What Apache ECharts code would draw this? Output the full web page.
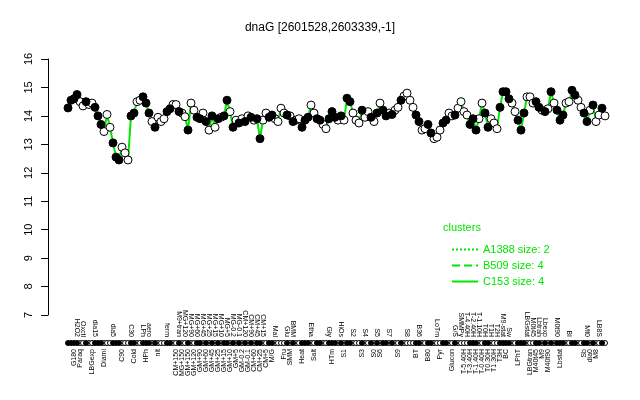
<!DOCTYPE html>
<html>
<head>
<meta charset="utf-8">
<script src="https://cdn.jsdelivr.net/npm/echarts@6/dist/echarts.min.js"></script>
<style>html,body{margin:0;padding:0;background:#fff}#c{width:640px;height:400px}</style>
</head>
<body>
<div id="c"></div>
<script>
const titleText = 'dnaG [2601528,2603339,-1]';
const yTicks = [7, 8, 9, 10, 11, 12, 13, 14, 15, 16];
const categories = [
 'G150','G135','G180','H2O2','Paraq','Oxctl','','','LBGexp','dia15',
 '','','Diami','','','dia5','','','C90','',
 '','C30','Cold','','','LPh','HPh','aero','','',
 'nit','','','ferm','','','CM+150','M9+tran','MG+150','MG+120',
 'GM+150','MG+90','GM+120','MG+60','GM+90','MG+45','GM+60','MG+25','GM+45','MG+15',
 'GM+25','MG+10','GM+15','MG+5','GM+10','MG-0.2','GM+5','MG-0.1','GM-0.2','CM+120',
 'GM-0.1','CM+90','CM+60','CM+45','CM+25','CM+15','CM+5','','M/G','Mal',
 '','','Fru','Glu','SMM','BMM','','','Heat','',
 '','Etha','Salt','','','','','Gly','HTm','',
 '','HiOs','S1','','','S2','','','S3','S4',
 '','','S0','S5','S6','','','S7','','',
 'S9','','','S8','','','BT','B36','','',
 'B80','','','LoTm','Pyr','','','','Glucon','G/S',
 '','SMMPy','T-5.40H','T-4.40H','T-3.40H','T-2.40H','T-1.40H','T-1.10H','T-0.40H','T0H',
 'T0.30H','T1H','T1.30H','T2H','T3H','M9-stat','BC','Sw','','',
 'LPhT','','','LBGstat','LBGtran','M0t45','M40t45','Lbtran','M9','Lbexp',
 'M40t90','','','M0t90','Lbstat','','','BI','','',
 '','','Sb','Mt0','dia0','','M8','LB8S','M9-exp','LBGS'
];
const values = [
 14.28,14.55,14.6,14.75,14.5,14.35,14.5,14.4,14.45,14.3,
 14.0,13.7,13.45,14.05,13.6,13.05,12.55,12.45,12.9,12.7,
 12.45,14.0,14.1,14.5,14.55,14.67,14.45,14.1,13.8,13.6,
 13.95,13.8,13.9,14.15,14.25,14.4,14.4,14.15,14.1,13.97,
 13.5,14.45,14.2,13.95,13.9,14.1,13.8,13.5,14.0,13.6,
 13.9,13.95,14.0,14.55,14.15,13.6,13.85,13.75,13.9,13.8,
 14.0,13.95,13.85,13.9,13.2,13.85,14.1,13.95,14.03,13.9,
 13.8,14.27,14.1,14.03,14.0,13.8,13.85,13.9,13.6,13.85,
 13.95,14.38,14.1,13.9,13.85,13.7,13.55,13.9,14.15,13.95,
 13.85,14.0,13.85,14.62,14.5,14.1,13.85,13.75,14.2,13.95,
 14.15,13.95,13.8,14.1,14.45,14.2,14.0,14.1,14.05,14.2,
 14.3,14.55,14.7,14.8,14.55,14.3,14.03,13.8,13.5,13.55,
 13.7,13.4,13.2,13.25,13.5,13.75,13.85,14.1,14.0,14.03,
 14.27,14.5,14.15,14.03,13.7,13.9,13.5,13.9,14.45,14.1,
 13.6,13.9,13.75,13.55,14.3,14.85,14.85,14.6,14.45,14.15,
 13.85,13.5,14.1,14.67,14.67,14.45,14.5,14.3,14.2,14.15,
 14.25,14.85,14.45,14.2,13.85,14.03,14.45,14.5,14.9,14.73,
 14.55,14.3,14.1,13.8,14.2,14.38,13.8,14.03,14.27,14.0
];
const filled = [
 1,1,1,1,0,0,1,0,0,1,
 1,1,0,0,0,1,1,1,0,0,
 0,1,1,0,0,1,1,1,0,1,
 0,0,0,1,1,0,0,1,0,0,
 1,0,0,1,1,0,1,0,1,0,
 1,0,1,1,0,1,0,1,0,1,
 0,1,0,1,1,0,0,1,1,0,
 0,0,0,1,0,1,0,0,1,1,
 1,0,0,1,1,0,0,1,1,1,
 0,1,0,1,1,0,0,0,1,0,
 0,1,0,1,0,1,1,0,1,0,
 0,1,0,0,0,0,1,1,0,0,
 1,1,0,0,0,1,1,0,0,1,
 0,0,0,0,1,1,1,0,0,1,
 1,0,0,0,1,1,1,1,0,0,
 1,1,1,0,0,0,1,1,0,1,
 0,1,0,1,1,1,0,0,1,1,
 0,0,1,1,0,1,0,0,1,0
];
const clusterNames = ['A1388 size: 2', 'B509 size: 4', 'C153 size: 4'];
const clusterTypes = ['dotted', 'dashed', 'solid'];

const GREEN = '#00e600';
const FONT = 'Liberation Sans, Arial, Helvetica, sans-serif';
const filledVals = values.map((v, i) => filled[i] ? v : '-');
const openVals = values.map((v, i) => filled[i] ? '-' : v);
const rugFilled = filled.map(f => f ? 0.5 : '-');
const rugOpen = filled.map(f => f ? '-' : 0.5);

const chart = echarts.init(document.getElementById('c'), null, {renderer: 'canvas'});
chart.setOption({
  animation: false,
  backgroundColor: '#fff',
  title: {
    text: titleText, left: 'center', top: 17,
    textStyle: {fontSize: 12, fontWeight: 'normal', color: '#000', fontFamily: FONT}
  },
  graphic: [{
    type: 'text', left: 443, top: 222,
    style: {text: 'clusters', fill: GREEN, font: '11px ' + FONT}
  }],
  legend: {
    data: clusterNames, orient: 'vertical', left: 446, top: 239,
    itemWidth: 26, itemHeight: 12, itemGap: 5,
    itemStyle: {opacity: 0},
    textStyle: {color: GREEN, fontSize: 11, fontFamily: FONT}
  },
  grid: [
    {left: 68, right: 35, top: 59, bottom: 85},
    {left: 68, right: 35, top: 338, height: 10}
  ],
  xAxis: [
    {gridIndex: 0, type: 'category', data: categories, boundaryGap: false, show: false},
    {gridIndex: 1, type: 'category', data: categories, boundaryGap: false, position: 'bottom',
     axisLine: {show: false}, axisTick: {show: false},
     axisLabel: {rotate: 90, fontSize: 7, color: '#000', fontFamily: FONT, margin: 1,
                 interval: (i) => i % 2 === 0}},
    {gridIndex: 1, type: 'category', data: categories, boundaryGap: false, position: 'top',
     axisLine: {show: false}, axisTick: {show: false},
     axisLabel: {rotate: 90, fontSize: 7, color: '#000', fontFamily: FONT, margin: 1,
                 interval: (i) => i % 2 === 1}}
  ],
  yAxis: [
    {gridIndex: 0, type: 'value', min: 7, max: 16, interval: 1, offset: 20,
     axisLine: {show: true, lineStyle: {color: '#000'}},
     axisTick: {show: true, length: 7, lineStyle: {color: '#000'}},
     splitLine: {show: false},
     axisLabel: {rotate: 90, fontSize: 11, color: '#000', fontFamily: FONT, margin: 14,
                 formatter: (v) => yTicks.includes(v) ? String(v) : ''}},
    {gridIndex: 1, type: 'value', min: 0, max: 1, show: false}
  ],
  series: [
    {name: clusterNames[0], type: 'line', data: [], symbol: 'none',
     lineStyle: {color: GREEN, type: clusterTypes[0], width: 2}, itemStyle: {color: GREEN}},
    {name: clusterNames[1], type: 'line', data: [], symbol: 'none',
     lineStyle: {color: GREEN, type: clusterTypes[1], width: 2}, itemStyle: {color: GREEN}},
    {name: clusterNames[2], type: 'line', data: values, symbol: 'none', z: 1,
     lineStyle: {color: GREEN, type: clusterTypes[2], width: 2}, itemStyle: {color: GREEN}},
    {type: 'scatter', data: openVals, symbol: 'circle', symbolSize: 8, z: 3,
     itemStyle: {color: '#fff', borderColor: '#000', borderWidth: 1, opacity: 1}},
    {type: 'scatter', data: filledVals, symbol: 'circle', symbolSize: 8, z: 4,
     itemStyle: {color: '#000', borderColor: '#000', borderWidth: 1, opacity: 1}},
    {type: 'scatter', xAxisIndex: 1, yAxisIndex: 1, data: rugOpen, symbol: 'circle', symbolSize: 5, z: 3,
     itemStyle: {color: '#fff', borderColor: '#000', borderWidth: 1, opacity: 1}},
    {type: 'scatter', xAxisIndex: 1, yAxisIndex: 1, data: rugFilled, symbol: 'circle', symbolSize: 5, z: 4,
     itemStyle: {color: '#000', borderColor: '#000', borderWidth: 1, opacity: 1}}
  ]
});
</script>
</body>
</html>
